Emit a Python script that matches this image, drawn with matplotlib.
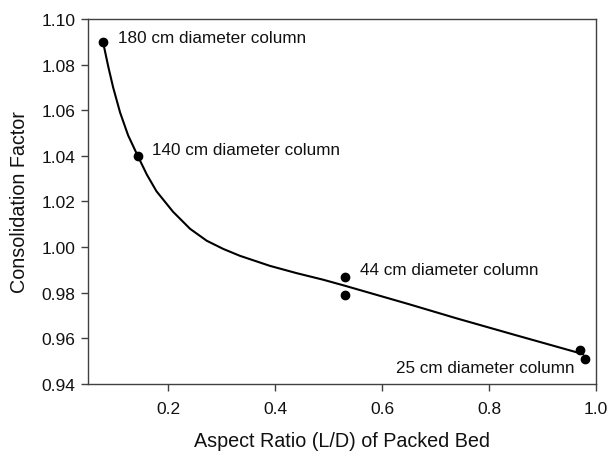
import matplotlib
matplotlib.use("Agg")
import matplotlib.pyplot as plt

# measured points
ratio = [0.078, 0.143, 0.530, 0.530, 0.970, 0.980]
factor = [1.090, 1.040, 0.987, 0.979, 0.955, 0.951]

# fitted curve
curve_x = [0.078, 0.088, 0.097, 0.110, 0.125, 0.143, 0.160, 0.178, 0.209,
           0.241, 0.272, 0.303, 0.334, 0.390, 0.440, 0.490, 0.530, 0.650,
           0.739, 0.850, 0.976]
curve_y = [1.090, 1.079, 1.070, 1.059, 1.049, 1.040, 1.0318, 1.0245, 1.0155,
           1.0080, 1.0028, 0.9992, 0.9962, 0.9918, 0.9886, 0.9857, 0.9831,
           0.9750, 0.9688, 0.9614, 0.9531]

labels = ["180 cm diameter column", "140 cm diameter column",
          "44 cm diameter column", "25 cm diameter column"]
label_x = [0.106, 0.169, 0.558, 0.626]
label_y = [1.0921, 1.043, 0.9904, 0.9473]

plt.rcParams['font.family'] = ['Liberation Sans', 'DejaVu Sans']

fig = plt.figure(figsize=(6.12, 4.52), dpi=100)
ax = fig.add_axes([0.1438, 0.1482, 0.8301, 0.8076])

ax.plot(curve_x, curve_y, color='black', lw=1.5, zorder=2,
        solid_joinstyle='round', solid_capstyle='round')
ax.plot(ratio, factor, 'o', color='black', ms=6, zorder=3)

for t, x, y in zip(labels, label_x, label_y):
    ax.text(x, y, t, fontsize=12.3, va='center', ha='left', color='#111111')

ax.set_xlim(0.05, 1.0)
ax.set_ylim(0.94, 1.10)
ax.set_xticks([0.2, 0.4, 0.6, 0.8, 1.0])
ax.set_yticks([0.94, 0.96, 0.98, 1.00, 1.02, 1.04, 1.06, 1.08, 1.10])
ax.set_xticklabels(["0.2", "0.4", "0.6", "0.8", "1.0"])
ax.set_yticklabels(["0.94", "0.96", "0.98", "1.00", "1.02", "1.04",
                    "1.06", "1.08", "1.10"])

for s in ax.spines.values():
    s.set_color('#404040')
    s.set_linewidth(1.0)
ax.tick_params(direction='out', length=5, width=1.0, color='#404040',
               labelsize=12.5, labelcolor='#111111')
ax.tick_params(axis='x', pad=7)
ax.tick_params(axis='y', pad=4)

ax.set_xlabel("Aspect Ratio (L/D) of Packed Bed", fontsize=14.2, labelpad=11,
              color='#111111')
ax.set_ylabel("Consolidation Factor", fontsize=14.2, labelpad=9,
              color='#111111')

fig.savefig("out.png", dpi=100)
